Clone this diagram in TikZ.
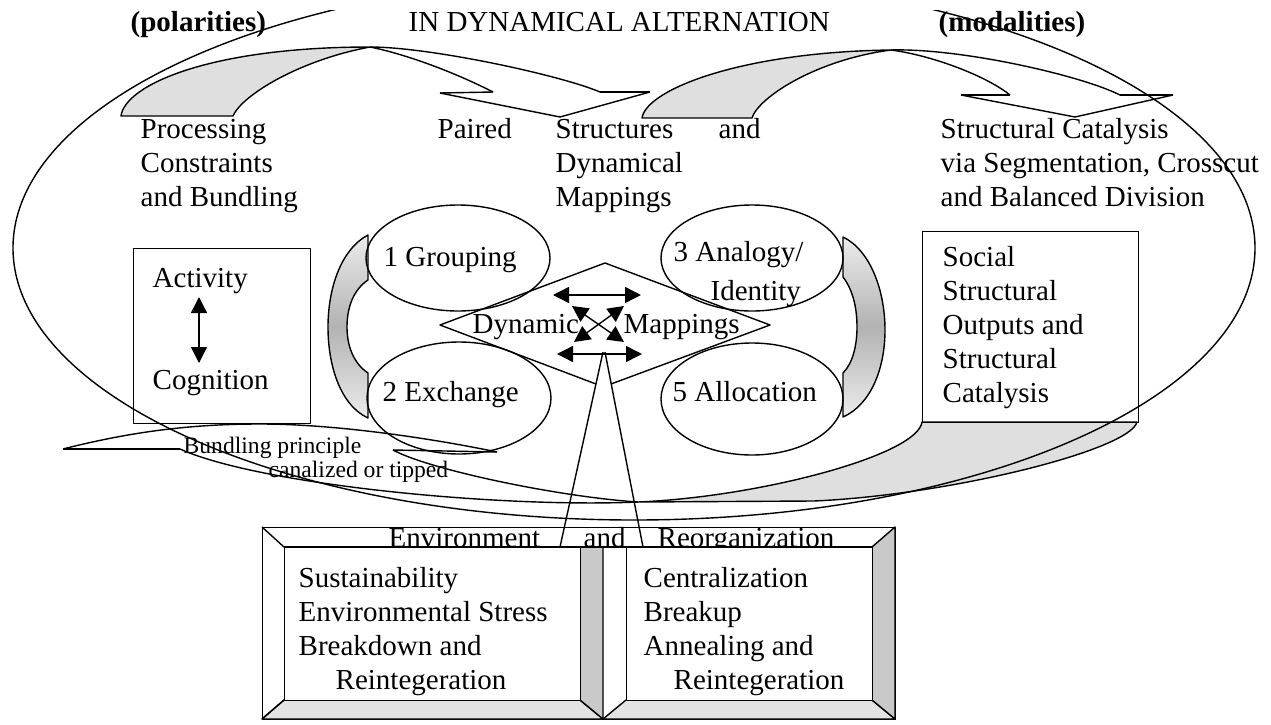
\documentclass[tikz,border=0pt]{standalone}
\usepackage{fontspec}
\setmainfont{Liberation Serif}
\usetikzlibrary{arrows.meta,shapes.geometric}
\begin{document}
\begin{tikzpicture}[x=0.5pt,y=-0.5pt,line width=0.7pt,line join=round,
  txt/.style={inner sep=0pt,anchor=base west,font=\fontsize{14.5}{17}\selectfont},
  boldtxt/.style={inner sep=0pt,anchor=base west,font=\fontsize{14.5}{17}\selectfont\bfseries},
  small/.style={inner sep=0pt,anchor=base west,font=\fontsize{11.8}{14}\selectfont},
  oval/.style={draw,ellipse,inner sep=0pt},
  plainbox/.style={draw,inner sep=0pt,anchor=north west},
  whitebox/.style={draw,fill=white,inner sep=0pt,anchor=north west},
  dbl/.style={{Triangle[length=8pt,width=8pt]}-{Triangle[length=8pt,width=8pt]}},
  crescent/.style={draw,top color=gray!15,bottom color=gray!15,middle color=gray!60},
  lens/.style={draw,fill=gray!25},
  bevel/.style={draw,fill=gray!22},
  darkbevel/.style={draw,fill=gray!42},
]
\useasboundingbox (0,0) rectangle (1271,724);
\fill[white] (0,0) rectangle (1271,724);

% ---------- top-left curved arrow ----------
\coordinate (a1b1) at (121,116); \coordinate (a1b2) at (233,116);
\coordinate (a1p) at (370,47);
\coordinate (a1i) at (493,92); \coordinate (a1o) at (600,92);
\coordinate (a1l) at (440,93); \coordinate (a1t) at (560,117); \coordinate (a1r) at (650,92);
\path[lens] (a1b1) .. controls (125,85) and (210,47) .. (a1p) .. controls (300,60) and (242,95) .. (a1b2) -- cycle;
\draw (a1p) .. controls (430,47) and (560,75) .. (a1o);
\draw (a1p) .. controls (410,55) and (460,75) .. (a1i);
\draw (a1l) -- (a1i);
\draw (a1o) -- (a1r);
\draw (a1l) -- (a1t) -- (a1r);

% ---------- top-right curved arrow ----------
\coordinate (a2b1) at (642,118); \coordinate (a2b2) at (752,118);
\coordinate (a2p) at (891,50);
\coordinate (a2i) at (1010,95); \coordinate (a2o) at (1120,95);
\coordinate (a2l) at (961,95); \coordinate (a2t) at (1075,117); \coordinate (a2r) at (1173,95);
\path[lens] (a2b1) .. controls (646,90) and (740,52) .. (a2p) .. controls (815,60) and (758,98) .. (a2b2) -- cycle;
\draw (a2p) .. controls (960,48) and (1080,75) .. (a2o);
\draw (a2p) .. controls (930,55) and (985,75) .. (a2i);
\draw (a2l) -- (a2i);
\draw (a2o) -- (a2r);
\draw (a2l) -- (a2t) -- (a2r);

% ---------- bottom curved arrow ----------
\coordinate (a3p) at (638,502);
\coordinate (a3i) at (393,450); \coordinate (a3o) at (180,449);
\coordinate (a3l) at (63,449); \coordinate (a3r) at (497,452); \coordinate (a3t) at (260,424);
\path[lens] (922,422) -- (1137,422) .. controls (1130,450) and (950,495) .. (814,501) -- (a3p) .. controls (760,497) and (918,455) .. (922,422) -- cycle;
\draw (a3p) .. controls (500,508) and (260,485) .. (a3o);
\draw (a3p) .. controls (560,497) and (430,470) .. (a3i);
\draw (a3l) -- (a3o);
\draw (a3i) -- (a3r);
\draw (a3l) .. controls (130,432) and (190,424) .. (a3t) .. controls (340,424) and (440,440) .. (a3r);

% ---------- crescents beside the ovals ----------
\path[crescent] (368,235) .. controls (340,250) and (328,290) .. (328,327) .. controls (328,365) and (340,405) .. (368,418) -- (368,373) .. controls (353,363) and (347,345) .. (347,327) .. controls (347,308) and (353,290) .. (368,280) -- cycle;
\path[crescent] (843,237) .. controls (870,250) and (885,290) .. (885,330) .. controls (885,370) and (870,405) .. (843,417) -- (843,373) .. controls (853,363) and (857,345) .. (857,327) .. controls (857,308) and (853,290) .. (843,277) -- cycle;

% ---------- ovals ----------
\node[oval,minimum width=92pt,minimum height=53pt] (e1) at (458,258) {};
\node[oval,minimum width=92pt,minimum height=56pt] (e2) at (459,398) {};
\node[oval,minimum width=91pt,minimum height=53pt] (e3) at (752,258) {};
\node[oval,minimum width=91pt,minimum height=56pt] (e5) at (752,399) {};

% ---------- side boxes ----------
\node[plainbox,minimum width=88.5pt,minimum height=87.5pt] (abox) at (133,248) {};
\node[plainbox,minimum width=108pt,minimum height=95.5pt] (sbox) at (922,231) {};

% ---------- big oval ----------
\begin{scope}
\clip (0,10) rectangle (1271,724);
\node[oval,minimum width=621pt,minimum height=272pt] (big) at (634,248) {};
\end{scope}

% ---------- bottom frame ----------
\node[plainbox,minimum width=316.5pt,minimum height=96pt] (outer) at (262,527) {};
\path[bevel] (262,719) -- (284,700) -- (580,700) -- (603,719) -- cycle;
\path[bevel] (603,719) -- (626,700) -- (872,700) -- (895,719) -- cycle;
\path[darkbevel] (872,547) -- (895,527) -- (895,719) -- (872,700) -- cycle;
\path[darkbevel] (580,547) -- (603,547) -- (603,719) -- (580,700) -- cycle;
\draw (262,527) -- (284,547);
\draw (262,719) -- (284,700);
\node[txt] (env) at (388,547) {Environment};
\node[txt] (envand) at (583,547) {and};
\node[txt] (reorg) at (657,547) {Reorganization};
\node[whitebox,minimum width=148pt,minimum height=76.5pt] (lbox) at (284,547) {};
\node[whitebox,minimum width=123pt,minimum height=76.5pt] (rbox) at (626,547) {};
\draw (lbox.north west) -- (rbox.north east);

% ---------- diamond and funnel ----------
\coordinate (dl) at (440,325); \coordinate (dt) at (605,263); \coordinate (dr) at (770,325);
\coordinate (dbl) at (596,384); \coordinate (dbr) at (611,384);
\coordinate (fa1) at (603,352); \coordinate (fa2) at (605,352);
\coordinate (fe1) at (560,547); \coordinate (fe2) at (643,547);
\draw (dbl) -- (dl) -- (dt) -- (dr) -- (dbr);
\draw (fa1) -- (fe1);
\draw (fa2) -- (fe2);

% ---------- arrows inside the diamond ----------
\coordinate (h1a) at (553,295); \coordinate (h1b) at (641,295);
\coordinate (h2a) at (557,354); \coordinate (h2b) at (642,354);
\coordinate (x1a) at (572,306); \coordinate (x1b) at (624,342);
\coordinate (x2a) at (624,306); \coordinate (x2b) at (574,342);
\draw[dbl] (h1a) -- (h1b);
\draw[dbl] (h2a) -- (h2b);
\draw[dbl] (x1a) -- (x1b);
\draw[dbl] (x2a) -- (x2b);

% ---------- arrow in the left box ----------
\coordinate (ac1) at (199,297); \coordinate (ac2) at (199,363);
\draw[dbl] (ac1) -- (ac2);

% ---------- texts ----------
\node[boldtxt] (pol) at (130,31) {(polarities)};
\node[txt] (ida) at (408,31) {IN DYNAMICAL ALTERNATION};
\node[boldtxt] (mod) at (938,31) {(modalities)};

\node[txt] (t1a) at (140,138) {Processing};
\node[txt] (t1b) at (140,172) {Constraints};
\node[txt] (t1c) at (140,206) {and Bundling};

\node[txt] (t2a) at (437,138) {Paired};
\node[txt] (t2b) at (555,138) {Structures};
\node[txt] (t2c) at (718,138) {and};
\node[txt] (t2d) at (555,172) {Dynamical};
\node[txt] (t2e) at (555,206) {Mappings};

\node[txt] (t3a) at (940,138) {Structural Catalysis};
\node[txt] (t3b) at (940,172) {via Segmentation, Crosscut};
\node[txt] (t3c) at (940,206) {and Balanced Division};

\node[txt] (act) at (152,287) {Activity};
\node[txt] (cog) at (152,389) {Cognition};

\node[txt] (s1) at (942,266) {Social};
\node[txt] (s2) at (942,300) {Structural};
\node[txt] (s3) at (942,334) {Outputs and};
\node[txt] (s4) at (942,368) {Structural};
\node[txt] (s5) at (942,402) {Catalysis};

\node[txt] (g1) at (383,266) {1 Grouping};
\node[txt] (g2) at (382,401) {2 Exchange};
\node[txt] (g3) at (673,261) {3 Analogy/};
\node[txt] (g3b) at (710,300) {Identity};
\node[txt] (g5) at (672,401) {5 Allocation};

\node[txt] (dyn) at (472,333) {Dynamic};
\node[txt] (map) at (623,333) {Mappings};

\node[small] (bp1) at (183,453) {Bundling principle};
\node[small] (bp2) at (268,477) {canalized or tipped};

\node[txt] (b1) at (298,587) {Sustainability};
\node[txt] (b2) at (298,621) {Environmental Stress};
\node[txt] (b3) at (298,655) {Breakdown and};
\node[txt] (b4) at (335,689) {Reintegeration};

\node[txt] (c1) at (643,587) {Centralization};
\node[txt] (c2) at (643,621) {Breakup};
\node[txt] (c3) at (643,655) {Annealing and};
\node[txt] (c4) at (673,689) {Reintegeration};
\end{tikzpicture}
\end{document}
